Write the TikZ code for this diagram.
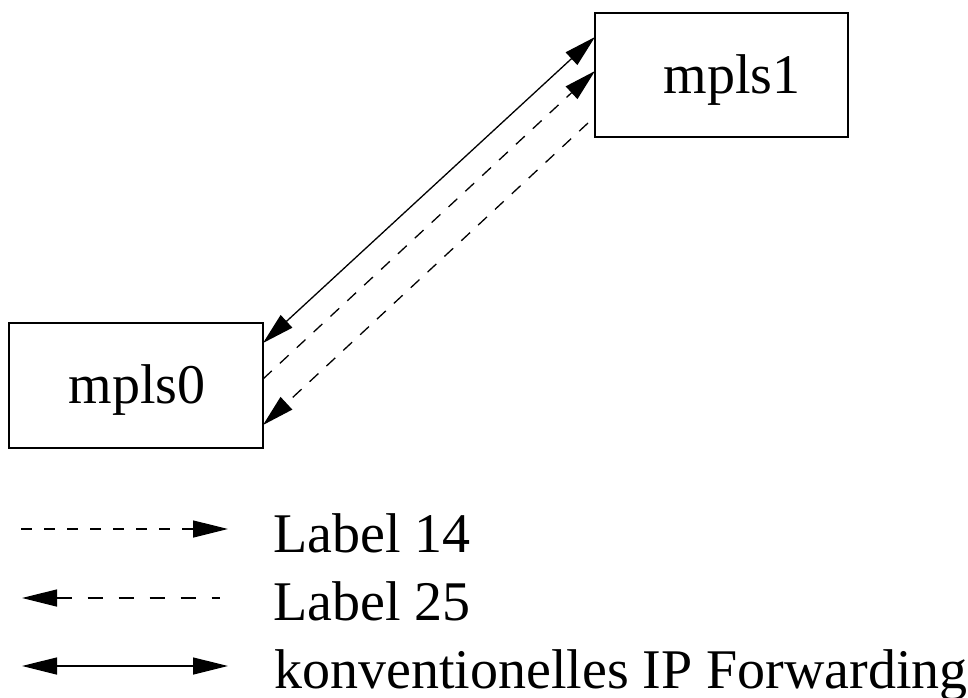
\documentclass[tikz,border=0pt]{standalone}
\usepackage{fontspec}
\setmainfont{Liberation Serif}
\usetikzlibrary{arrows.meta}
\begin{document}
\begin{tikzpicture}[x=1pt,y=-1pt,
  box/.style={draw,line width=1.3pt,inner sep=0pt},
  txt/.style={font=\fontsize{56}{60}\selectfont,inner sep=0pt},
  conn/.style={line width=1.3pt},
  dsh/.style={dash pattern=on 12pt off 11pt},
  tip/.style={-{Triangle[length=32pt,width=17pt]}},
  tipb/.style={{Triangle[length=32pt,width=17pt]}-{Triangle[length=32pt,width=17pt]}}]
\useasboundingbox (0,0) rectangle (968,697);
\node[box,minimum width=253pt,minimum height=124pt] (m1) at (721.5,75) {};
\node[box,minimum width=254pt,minimum height=125pt] (m0) at (136,385.5) {};
\node[txt,anchor=base] (t1) at (732,93) {mpls1};
\node[txt,anchor=base] (t0) at (137,403) {mpls0};
% connector end points on the boxes
\coordinate (a0) at (263,343);
\coordinate (a1) at (595,37);
\coordinate (b0) at (263,379);
\coordinate (b1) at (595,71);
\coordinate (c1) at (588,123);
\coordinate (c0) at (263,425);
\draw[conn,tipb] (a0) -- (a1);
\draw[conn,dsh,tip] (b0) -- (b1);
\draw[conn,dsh,tip] (c1) -- (c0);
% legend
\coordinate (l1a) at (21,529); \coordinate (l1b) at (228,529);
\coordinate (l2a) at (22,598); \coordinate (l2b) at (220,598);
\coordinate (l3a) at (22,666); \coordinate (l3b) at (228,666);
\draw[conn,dash pattern=on 11pt off 12pt,-{Triangle[length=35pt,width=17pt]}] (l1a) -- (l1b);
\draw[conn,dash pattern=on 0pt off 0pt on 15pt off 16pt,{Triangle[length=35pt,width=17pt]}-] (l2a) -- (l2b);
\draw[conn,{Triangle[length=35pt,width=17pt]}-{Triangle[length=35pt,width=17pt]}] (l3a) -- (l3b);
\node[txt,anchor=base west] (lg1) at (273,552) {Label 14};
\node[txt,anchor=base west] (lg2) at (273,620) {Label 25};
\node[txt,anchor=base west] (lg3) at (274,688) {konventionelles IP Forwarding};
\end{tikzpicture}
\end{document}
